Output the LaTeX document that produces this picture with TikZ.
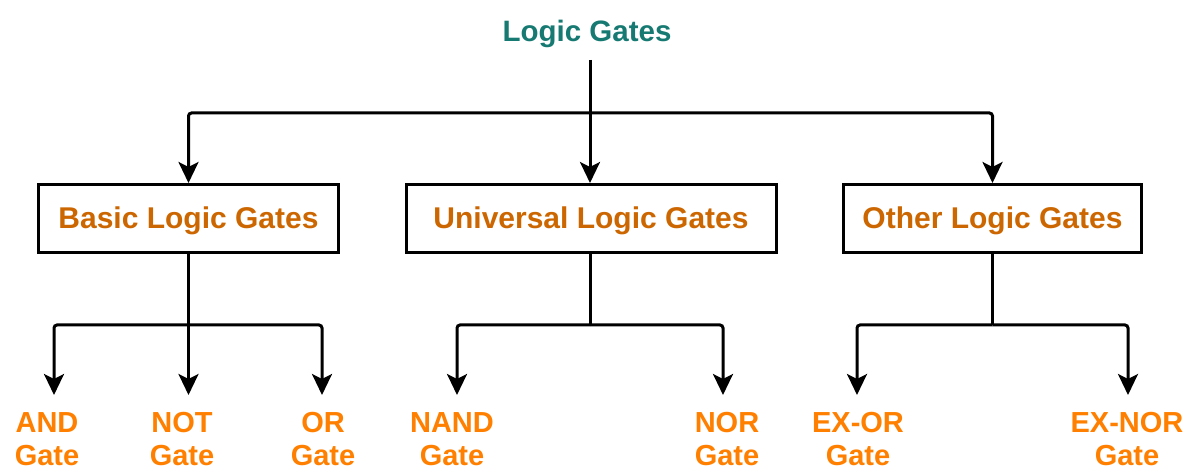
\documentclass[tikz,border=0pt]{standalone}
\usepackage{fontspec}
\setmainfont{Liberation Sans}
\usetikzlibrary{arrows.meta}
\definecolor{titleteal}{RGB}{22,122,114}
\definecolor{boxorange}{RGB}{204,102,0}
\definecolor{leaforange}{RGB}{255,128,0}
\begin{document}
\begin{tikzpicture}[x=1pt,y=1pt,
  ln/.style={line width=3pt, rounded corners=3pt},
  arr/.style={ln, -{Stealth[length=21pt,width=20pt,inset=5pt]}},
  gbox/.style={draw, line width=3pt, minimum height=68pt, inner sep=0pt,
    text height=21pt, text depth=0pt,
    font=\fontsize{30}{34}\selectfont\bfseries, text=boxorange},
  leaf/.style={font=\fontsize{29}{33}\selectfont\bfseries, text=leaforange,
    align=center, anchor=base, inner sep=0pt},
]
\useasboundingbox (0,0) rectangle (1189,469);

\node[anchor=base, inner sep=0pt, font=\fontsize{29.5}{34}\selectfont\bfseries, text=titleteal] (title) at (587,427) {Logic Gates};

\node[gbox, minimum width=300pt] (basic) at (188.5,250.5) {Basic Logic Gates};
\node[gbox, minimum width=370pt] (univ) at (591,250.5) {Universal Logic Gates};
\node[gbox, minimum width=298pt] (other) at (992.5,250.5) {Other Logic Gates};

\node[leaf] (and) at (47,4) {AND\\Gate};
\node[leaf] (not) at (182,4) {NOT\\Gate};
\node[leaf] (or) at (323,4) {OR\\Gate};
\node[leaf] (nand) at (452,4) {NAND\\Gate};
\node[leaf] (nor) at (727,4) {NOR\\Gate};
\node[leaf] (exor) at (858,4) {EX-OR\\Gate};
\node[leaf] (exnor) at (1127,4) {EX-NOR\\Gate};

% junctions and arrow ends
\coordinate (ts) at (590,409);
\coordinate (tj) at (590,356);
\coordinate (bj) at (188.5,144);
\coordinate (uj) at (590,144);
\coordinate (oj) at (992.5,144);
\coordinate (andT) at (54,74);
\coordinate (notT) at (188.5,74);
\coordinate (orT) at (322,74);
\coordinate (nandT) at (457,74);
\coordinate (norT) at (723,74);
\coordinate (exorT) at (857,74);
\coordinate (exnorT) at (1128,74);

% top level
\draw[ln] (ts) -- (tj);
\draw[arr] (tj) -| (basic.north);
\draw[arr] (tj) -- (univ.north -| tj);
\draw[arr] (tj) -| (other.north);

% basic
\draw[ln] (basic.south) -- (bj);
\draw[arr] (bj) -| (andT);
\draw[arr] (bj) -- (notT);
\draw[arr] (bj) -| (orT);

% universal
\draw[ln] (univ.south -| uj) -- (uj);
\draw[arr] (uj) -| (nandT);
\draw[arr] (uj) -| (norT);

% other
\draw[ln] (other.south) -- (oj);
\draw[arr] (oj) -| (exorT);
\draw[arr] (oj) -| (exnorT);
\end{tikzpicture}
\end{document}
